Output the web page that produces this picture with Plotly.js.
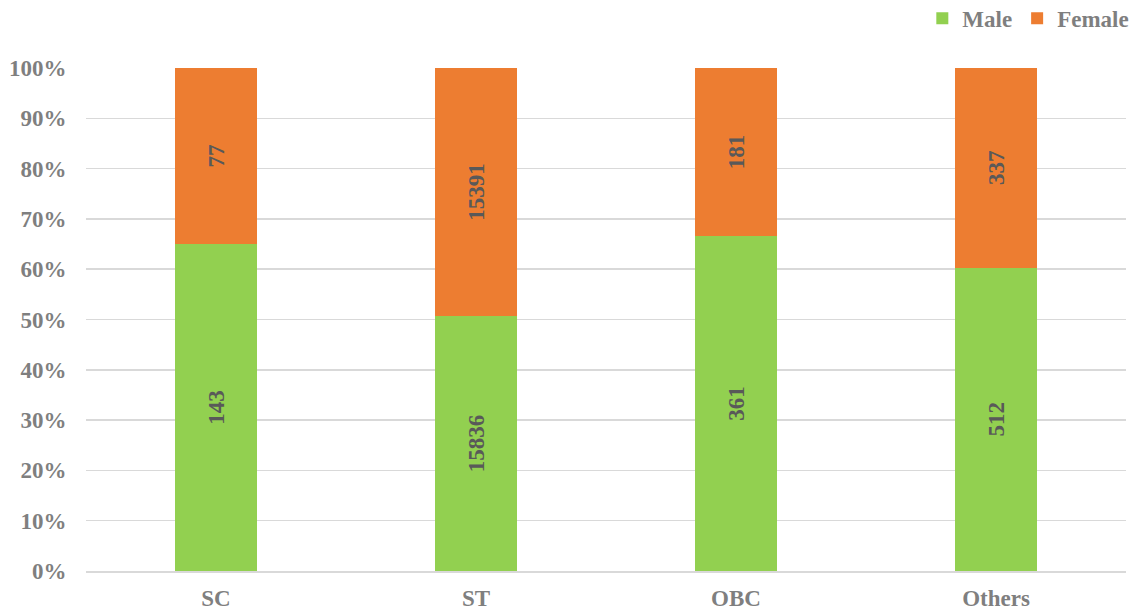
<!DOCTYPE html>
<html>
<head>
<meta charset="utf-8">
<script src="https://cdn.plot.ly/plotly-3.0.1.min.js"></script>
<style>html,body{margin:0;padding:0;background:#fff;}#chart{width:1141px;height:610px;}</style>
</head>
<body>
<div id="chart"></div>
<script>
const categories = ["SC", "ST", "OBC", "Others"];
const maleValues = [143, 15836, 361, 512];
const femaleValues = [77, 15391, 181, 337];
const yTickValues = [0, 10, 20, 30, 40, 50, 60, 70, 80, 90, 100];
const yTickLabels = ["0%", "10%", "20%", "30%", "40%", "50%", "60%", "70%", "80%", "90%", "100%"];

const serif = "Liberation Serif, Times New Roman, serif";
const labelFont = {family: serif, size: 23, color: "#595959", weight: 700};
const tickFont = {family: serif, size: 23, color: "#7F7F7F", weight: 700};

const traces = [
  {
    type: "bar", name: "Male", x: categories, y: maleValues,
    text: maleValues.map(String), texttemplate: "%{text}",
    textposition: "inside", insidetextanchor: "middle", textangle: -90,
    textfont: labelFont, insidetextfont: labelFont,
    marker: {color: "#92D050"}, hoverinfo: "x+y+name"
  },
  {
    type: "bar", name: "Female", x: categories, y: femaleValues,
    text: femaleValues.map(String), texttemplate: "%{text}",
    textposition: "inside", insidetextanchor: "middle", textangle: -90,
    textfont: labelFont, insidetextfont: labelFont,
    marker: {color: "#ED7D31"}, hoverinfo: "x+y+name"
  }
];

const layout = {
  width: 1141, height: 610,
  margin: {l: 86, r: 15, t: 68, b: 39, autoexpand: false},
  paper_bgcolor: "#fff", plot_bgcolor: "#fff",
  barmode: "stack", barnorm: "percent", bargap: 0.688,
  font: {family: serif, size: 23, color: "#7F7F7F", weight: 700},
  showlegend: true,
  legend: {
    orientation: "h", x: 1.008, xanchor: "right", xref: "paper",
    y: 0.97, yanchor: "middle", yref: "container",
    traceorder: "normal", font: tickFont,
    itemwidth: 30, bgcolor: "rgba(0,0,0,0)"
  },
  xaxis: {
    type: "category", showgrid: false, zeroline: false,
    showline: true, linecolor: "#D9D9D9", linewidth: 1.5,
    ticks: "outside", ticklen: 6, tickcolor: "rgba(0,0,0,0)",
    tickfont: tickFont
  },
  yaxis: {
    range: [0, 100], tickvals: yTickValues, ticktext: yTickLabels,
    showgrid: true, gridcolor: "#D9D9D9", gridwidth: 1.5, zeroline: false,
    showline: false, ticks: "outside", ticklen: 14, tickcolor: "rgba(0,0,0,0)",
    tickfont: tickFont, fixedrange: true
  }
};

Plotly.newPlot("chart", traces, layout, {displayModeBar: false, staticPlot: true});
</script>
</body>
</html>
